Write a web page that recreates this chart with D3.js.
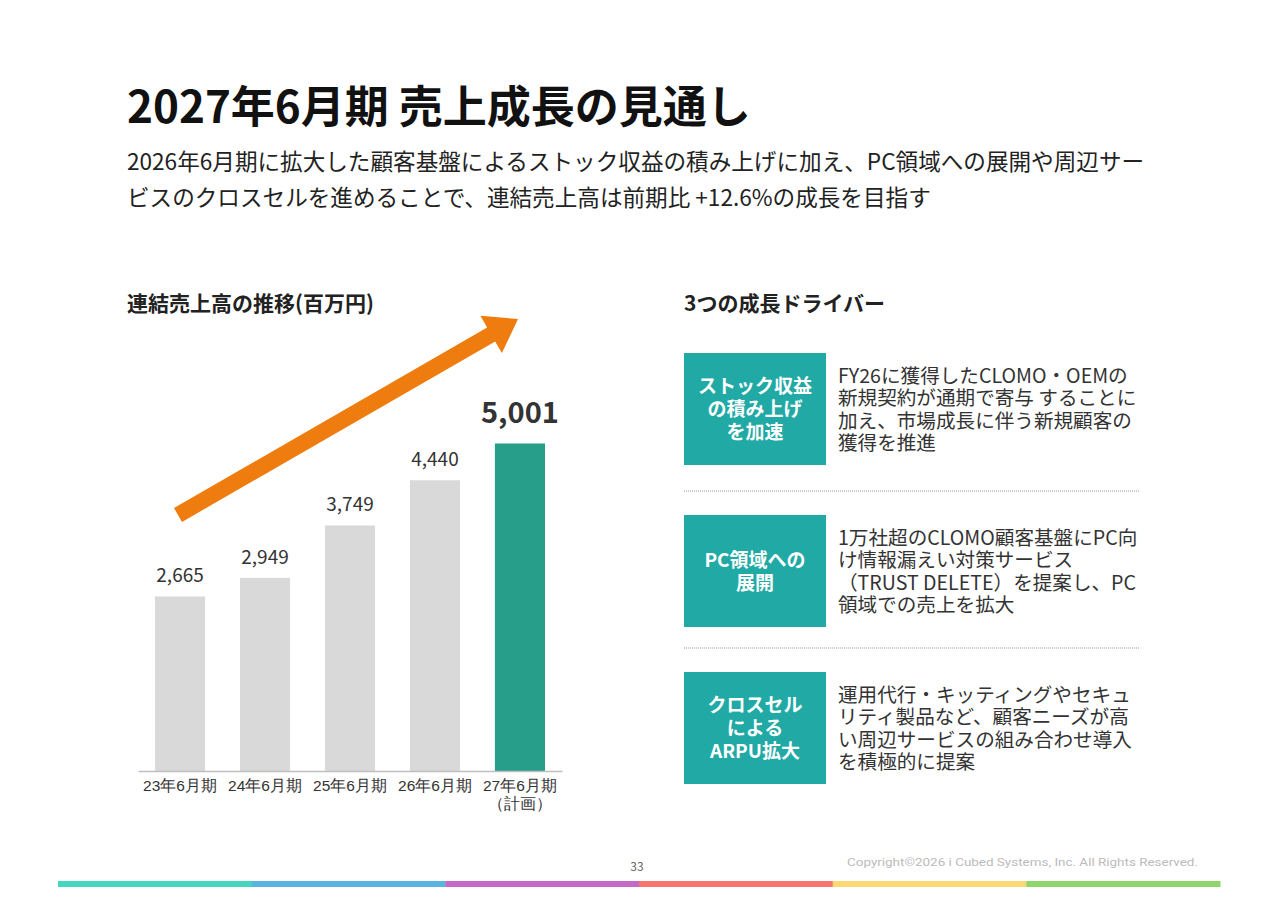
<!DOCTYPE html>
<html><head><meta charset="utf-8">
<script src="https://cdn.jsdelivr.net/npm/d3@7/dist/d3.min.js"></script>
<style>
html,body{margin:0;padding:0;background:#fff;}
svg{display:block;font-family:"Noto Sans CJK JP","Noto Sans",sans-serif;}
</style></head>
<body>
<svg id="c" width="1280" height="905"></svg>
<script>
// ---- data ----
const categories = ["23年6月期","24年6月期","25年6月期","26年6月期","27年6月期"];
const categorySub = ["","","","","（計画）"];
const revenue = [2665, 2949, 3749, 4440, 5001];
const isPlan = [false,false,false,false,true];
const titleText = "2027年6月期 売上成長の見通し";
const subtitleLines = [
  "2026年6月期に拡大した顧客基盤によるストック収益の積み上げに加え、PC領域への展開や周辺サー",
  "ビスのクロスセルを進めることで、連結売上高は前期比 +12.6%の成長を目指す"
];
const chartTitle = "連結売上高の推移(百万円)";
const driverTitle = "3つの成長ドライバー";
const driverLabels = [
  ["ストック収益","の積み上げ","を加速"],
  ["PC領域への","展開"],
  ["クロスセル","による","ARPU拡大"]
];
const driverTexts = [
  ["FY26に獲得したCLOMO・OEMの","新規契約が通期で寄与 することに","加え、市場成長に伴う新規顧客の","獲得を推進"],
  ["1万社超のCLOMO顧客基盤にPC向","け情報漏えい対策サービス","（TRUST DELETE）を提案し、PC","領域での売上を拡大"],
  ["運用代行・キッティングやセキュ","リティ製品など、顧客ニーズが高","い周辺サービスの組み合わせ導入","を積極的に提案"]
];
const footerColors = ["#45D6BE","#5AB4E0","#C36AC8","#F7736B","#FCD874","#8ED66A"];
const pageNo = "33";
const copyright = "Copyright©2026 i Cubed Systems, Inc. All Rights Reserved.";

// ---- drawing ----
const svg = d3.select("#c");
const fmt = d3.format(",");

svg.append("text").attr("x",127).attr("y",123).attr("font-size",44).attr("font-weight",700)
  .attr("fill","#111").text(titleText);
const sub = svg.append("text").attr("font-size",22.6).attr("fill","#222");
subtitleLines.forEach((t,i)=>{
  sub.append("tspan").attr("x",127).attr("y",170+i*36).text(t);
});

svg.append("text").attr("x",127).attr("y",311).attr("font-size",21).attr("font-weight",700)
  .attr("fill","#222").text(chartTitle);
svg.append("text").attr("x",684).attr("y",311).attr("font-size",21).attr("font-weight",700)
  .attr("fill","#222").text(driverTitle);

// chart
const x = d3.scaleBand().domain(categories).range([138,562]).paddingInner(0.41).paddingOuter(0.2);
const y = d3.scaleLinear().domain([0,5001]).range([771,443.5]);

const g = svg.append("g");
g.selectAll("rect.bar").data(revenue).join("rect").attr("class","bar")
  .attr("x",(d,i)=>x(categories[i])).attr("width",x.bandwidth())
  .attr("y",d=>y(d)).attr("height",d=>y(0)-y(d))
  .attr("fill",(d,i)=>isPlan[i]?"#279E89":"#D9D9D9");

g.selectAll("text.val").data(revenue).join("text").attr("class","val")
  .attr("x",(d,i)=>x(categories[i])+x.bandwidth()/2)
  .attr("y",(d,i)=>y(d)-(isPlan[i]?21:14))
  .attr("text-anchor","middle")
  .attr("font-size",(d,i)=>isPlan[i]?29:19)
  .attr("font-weight",(d,i)=>isPlan[i]?700:400)
  .attr("fill","#333").text(d=>fmt(d));

const xAxis = g.append("g").attr("transform",`translate(0,${y(0)})`)
  .call(d3.axisBottom(x).tickSize(0).tickPadding(0));
xAxis.select(".domain").attr("stroke","#BFBFBF").attr("stroke-width",1.5);
xAxis.selectAll(".tick text").remove();
xAxis.selectAll(".tick").each(function(d,i){
  const t = d3.select(this);
  const tx = t.append("text").attr("text-anchor","middle").attr("font-size",15.5).attr("fill","#333");
  tx.append("tspan").attr("x",0).attr("y",20).text(d);
  if(categorySub[i]) tx.append("tspan").attr("x",0).attr("y",38).text(categorySub[i]);
});

// growth arrow (decoration)
(function(){
  const x0=178, y0=515, x1=518, y1=319;
  const dx=x1-x0, dy=y1-y0, L=Math.hypot(dx,dy);
  const ux=dx/L, uy=dy/L, nx=-uy, ny=ux;
  const hw=8, headW=21.5, headL=31;
  const bx=x1-ux*headL, by=y1-uy*headL;
  const pts=[[x0+nx*hw,y0+ny*hw],[bx+nx*hw,by+ny*hw],[bx+nx*headW,by+ny*headW],[x1,y1],
    [bx-nx*headW,by-ny*headW],[bx-nx*hw,by-ny*hw],[x0-nx*hw,y0-ny*hw]];
  svg.append("path").attr("d",d3.line()(pts)+"Z").attr("fill","#EE7C0E");
})();

// drivers
const boxTop=[353,515,672], boxH=112;
driverLabels.forEach((lines,k)=>{
  svg.append("rect").attr("x",684).attr("y",boxTop[k]).attr("width",142).attr("height",boxH)
    .attr("fill","#20A9A5");
  const lh=23, cy=boxTop[k]+boxH/2;
  const lt = svg.append("text").attr("text-anchor","middle").attr("font-size",19).attr("font-weight",700)
      .attr("fill","#fff");
  lines.forEach((t,j)=>{
    lt.append("tspan").attr("x",755).attr("y",cy+(j-(lines.length-1)/2)*lh+7).text(t);
  });
  const tl=driverTexts[k];
  const lh2=22.5;
  const dt = svg.append("text").attr("font-size",19.6).attr("fill","#333");
  tl.forEach((t,j)=>{
    dt.append("tspan").attr("x",838).attr("y",cy+(j-(tl.length-1)/2)*lh2+7.5).text(t);
  });
});
[491,648].forEach(yy=>{
  svg.append("line").attr("x1",684).attr("x2",1140).attr("y1",yy).attr("y2",yy)
    .attr("stroke","#999").attr("stroke-width",1).attr("stroke-dasharray","1,1");
});

// footer
svg.append("text").attr("x",637).attr("y",871).attr("text-anchor","middle").attr("font-size",12)
  .attr("fill","#666").text(pageNo);
svg.append("text").attr("x",1198).attr("y",866).attr("text-anchor","end").attr("font-size",11)
  .attr("fill","#BBB").attr("textLength",351).attr("lengthAdjust","spacingAndGlyphs")
  .attr("font-family","Roboto, sans-serif").text(copyright);
const fx = d3.scaleBand().domain(d3.range(footerColors.length)).range([58,1220]);
svg.selectAll("rect.ft").data(footerColors).join("rect").attr("class","ft")
  .attr("x",(d,i)=>fx(i)).attr("width",fx.bandwidth()+0.5).attr("y",881).attr("height",6).attr("fill",d=>d);
</script>
</body></html>
